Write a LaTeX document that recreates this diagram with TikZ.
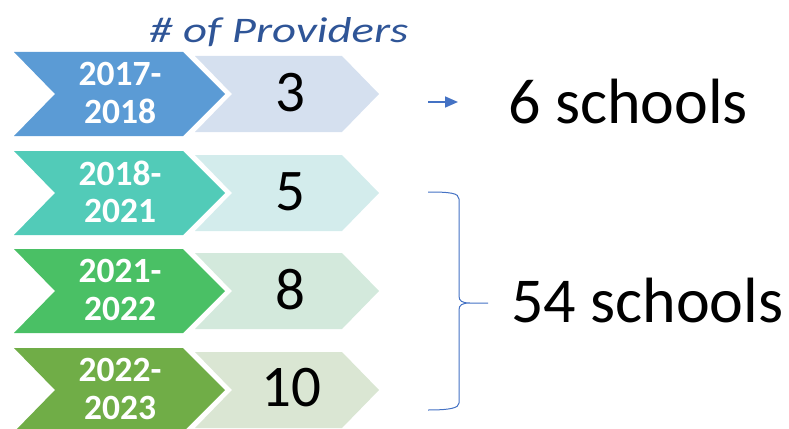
\documentclass[tikz,border=0pt]{standalone}
\usepackage{fontspec}
\setmainfont{Carlito}
\usetikzlibrary{arrows.meta}
\definecolor{dA}{HTML}{5B9BD5}\definecolor{lA}{HTML}{D5E0EF}
\definecolor{dB}{HTML}{52CBB8}\definecolor{lB}{HTML}{D3ECEC}
\definecolor{dC}{HTML}{4AC065}\definecolor{lC}{HTML}{D3E9DC}
\definecolor{dD}{HTML}{70AD47}\definecolor{lD}{HTML}{DAE6D3}
\definecolor{ttl}{HTML}{2F5597}
\definecolor{brc}{HTML}{4472C4}
\tikzset{
  yeartext/.style={text=white,font=\fontsize{35.5}{37.5}\selectfont\bfseries,align=center,inner sep=0pt},
  numtext/.style={text=black,font=\fontsize{59}{60}\selectfont,inner sep=0pt},
  schooltext/.style={text=black,font=\fontsize{64}{66}\selectfont,inner sep=0pt,anchor=base west},
  bracestyle/.style={draw=brc,line width=1pt},
}
\newcommand{\rowchev}[4]{% top, bottom, dark, light
  \pgfmathsetmacro{\m}{(#1+#2)/2}
  \fill[#3] (14,#1) -- (183,#1) -- (225,\m) -- (183,#2) -- (14,#2) -- (55,\m) -- cycle;
  \fill[#4] (195,#1+4) -- (342,#1+4) -- (379,\m) -- (342,#2-4) -- (195,#2-4) -- (232,\m) -- cycle;
}
\begin{document}
\begin{tikzpicture}[x=1pt,y=-1pt]
\useasboundingbox (0,0) rectangle (789,428);
\rowchev{52}{136}{dA}{lA}
\rowchev{151}{235}{dB}{lB}
\rowchev{249}{333}{dC}{lC}
\rowchev{348}{432}{dD}{lD}
\node[yeartext] (y1) at (120,93) {2017-\\2018};
\node[yeartext] (y2) at (120,192) {2018-\\2021};
\node[yeartext] (y3) at (120,290) {2021-\\2022};
\node[yeartext] (y4) at (120,389) {2022-\\2023};
\node[numtext] (n1) at (290,93) {3};
\node[numtext] (n2) at (290,192) {5};
\node[numtext] (n3) at (290,290) {8};
\node[numtext] (n4) at (291,388) {10};
\node[anchor=base west,inner sep=0pt,text=ttl,font=\fontsize{36}{38}\selectfont\itshape] (title) at (149,43) {\scalebox{1.3}[1]{\# of Providers}};
\node[schooltext] (s6) at (508,123) {6 schools};
\node[schooltext] (s54) at (511,322) {54 schools};
\coordinate (a1) at (428,102);
\coordinate (a2) at (458,102);
\draw[draw=brc,line width=1.6pt,-{Triangle[length=13pt,width=11pt]}] (a1) -- (a2);
\draw[bracestyle] (428,192) .. controls (450,192) and (459,193) .. (459,199) -- (459,296)
  .. controls (459,301) and (462,303) .. (470,303) -- (488,303)
  (470,303) .. controls (462,303) and (459,305) .. (459,310) -- (459,403)
  .. controls (459,408) and (450,410) .. (428,410);
\end{tikzpicture}
\end{document}
